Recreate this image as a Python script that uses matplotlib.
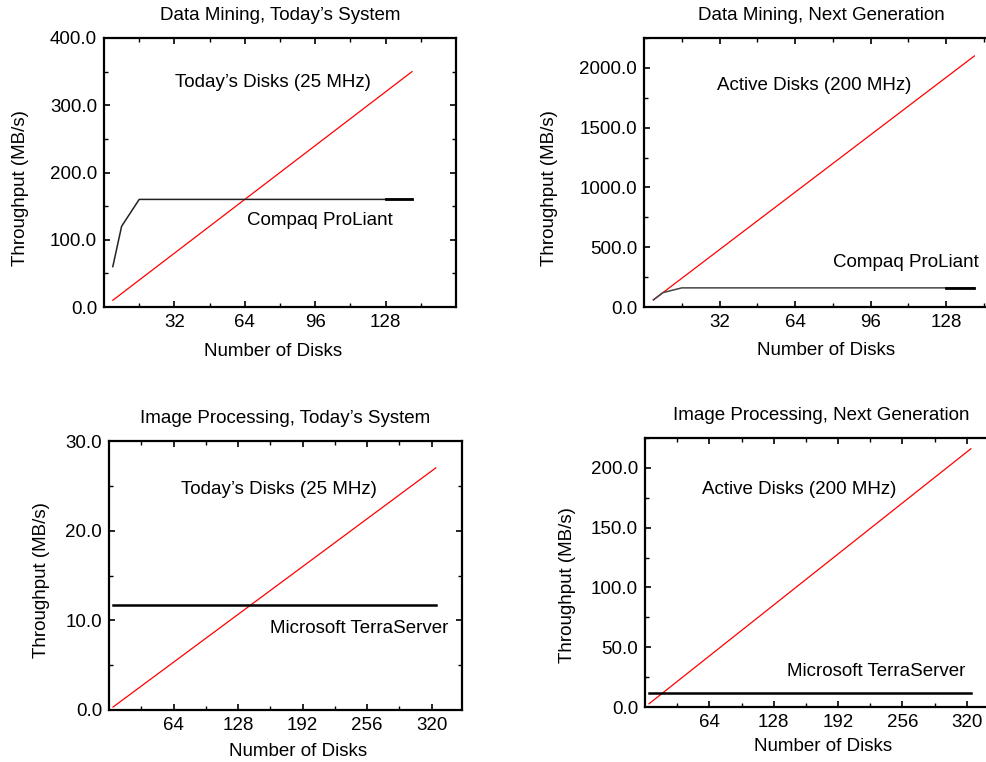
import matplotlib
matplotlib.use("Agg")
import matplotlib.pyplot as plt

plt.rcParams.update({
    "font.family": ["Liberation Sans", "DejaVu Sans"],
    "font.size": 13.5,
    "axes.linewidth": 1.6,
    "xtick.direction": "in",
    "ytick.direction": "in",
    "xtick.top": True,
    "ytick.right": True,
    "xtick.major.size": 4,
    "ytick.major.size": 4,
    "xtick.minor.size": 3,
    "ytick.minor.size": 3,
    "xtick.major.width": 1.2,
    "ytick.major.width": 1.2,
    "xtick.minor.width": 1.0,
    "ytick.minor.width": 1.0,
    "xtick.labelsize": 13.5,
    "ytick.labelsize": 13.5,
    "xtick.major.pad": 5,
    "ytick.major.pad": 5,
})

# data mining (disks 4..140)
dm_disks = [4, 8, 16, 32, 64, 128, 140]
dm_today_disks = [10, 20, 40, 80, 160, 320, 350]
dm_next_disks = [60, 120, 240, 480, 960, 1920, 2100]
dm_compaq = [60, 120, 160, 160, 160, 160, 160]

# image processing (disks 4..324)
ip_disks = [4, 324]
ip_today_disks = [0.33, 27.0]
ip_next_disks = [2.7, 216.0]
ip_terra = [11.7, 11.7]

RED = "#ff0000"
W, H = 986, 762
FS = 13.5


def place(fig, left, right, top, bottom):
    return fig.add_axes([left / W, (H - bottom) / H, (right - left) / W, (bottom - top) / H])


def style(ax, xlim, xmajor, xminor, ylim, ymajor, yminor):
    ax.set_xlim(*xlim)
    ax.set_ylim(*ylim)
    ax.set_xticks(xmajor)
    ax.set_xticks(xminor, minor=True)
    ax.set_yticks(ymajor)
    ax.set_yticks(yminor, minor=True)
    ax.set_yticklabels([f"{v:.1f}" for v in ymajor])


def note(ax, x, y, s):
    ax.text(x, y, s, transform=ax.transAxes, ha="center", va="center", fontsize=FS)


def labels(ax, title, tx, ty, ax_x, ax_y, ay_x, ay_y):
    note(ax, tx, ty, title)
    note(ax, ax_x, ax_y, "Number of Disks")
    ax.text(ay_x, ay_y, "Throughput (MB/s)", transform=ax.transAxes, ha="center",
            va="center", rotation=90, fontsize=FS)


fig = plt.figure(figsize=(W / 100, H / 100), dpi=100)

# top left
ax1 = place(fig, 104, 456, 38, 307)
ax1.plot(dm_disks, dm_today_disks, color=RED, lw=0.9)
ax1.plot(dm_disks, dm_compaq, color="#222222", lw=1.1)
ax1.plot(dm_disks[-2:], dm_compaq[-2:], color="black", lw=2)
style(ax1, (0, 160), [32, 64, 96, 128], [16, 48, 80, 112, 144],
      (0, 400), [0, 100, 200, 300, 400], [50, 150, 250, 350])
note(ax1, 0.48, 0.836, "Today\u2019s Disks (25 MHz)")
note(ax1, 0.612, 0.32, "Compaq ProLiant")
labels(ax1, "Data Mining, Today\u2019s System", 0.5, 1.082, 0.48, -0.164, -0.236, 0.444)

# top right
ax2 = place(fig, 644, 998, 38, 307)
ax2.plot(dm_disks, dm_next_disks, color=RED, lw=0.9)
ax2.plot(dm_disks, dm_compaq, color="#444444", lw=1.1)
ax2.plot(dm_disks[-2:], dm_compaq[-2:], color="black", lw=2)
style(ax2, (0, 150), [32, 64, 96, 128], [16, 48, 80, 112, 144],
      (0, 2250), [0, 500, 1000, 1500, 2000], [250, 750, 1250, 1750, 2250])
note(ax2, 0.482, 0.825, "Active Disks (200 MHz)")
note(ax2, 0.740, 0.165, "Compaq ProLiant")
labels(ax2, "Data Mining, Next Generation", 0.5, 1.082, 0.514, -0.162, -0.266, 0.444)

# bottom left
ax3 = place(fig, 109, 462, 441, 710)
ax3.plot(ip_disks, ip_today_disks, color=RED, lw=0.9)
ax3.plot(ip_disks, ip_terra, color="black", lw=1.8)
style(ax3, (0, 350), [64, 128, 192, 256, 320], [32, 96, 160, 224, 288],
      (0, 30), [0, 10, 20, 30], [5, 15, 25])
note(ax3, 0.48, 0.820, "Today\u2019s Disks (25 MHz)")
note(ax3, 0.708, 0.304, "Microsoft TerraServer")
labels(ax3, "Image Processing, Today\u2019s System", 0.5, 1.084, 0.536, -0.155, -0.19, 0.483)

# bottom right
ax4 = place(fig, 645, 997, 438, 707)
ax4.plot(ip_disks, ip_next_disks, color=RED, lw=0.9)
ax4.plot(ip_disks, ip_terra, color="black", lw=1.8)
style(ax4, (0, 350), [64, 128, 192, 256, 320], [32, 96, 160, 224, 288],
      (0, 225), [0, 50, 100, 150, 200], [25, 75, 125, 175, 225])
note(ax4, 0.437, 0.807, "Active Disks (200 MHz)")
note(ax4, 0.657, 0.131, "Microsoft TerraServer")
labels(ax4, "Image Processing, Next Generation", 0.5, 1.082, 0.506, -0.145, -0.219, 0.454)

fig.savefig("out.png", dpi=100)
